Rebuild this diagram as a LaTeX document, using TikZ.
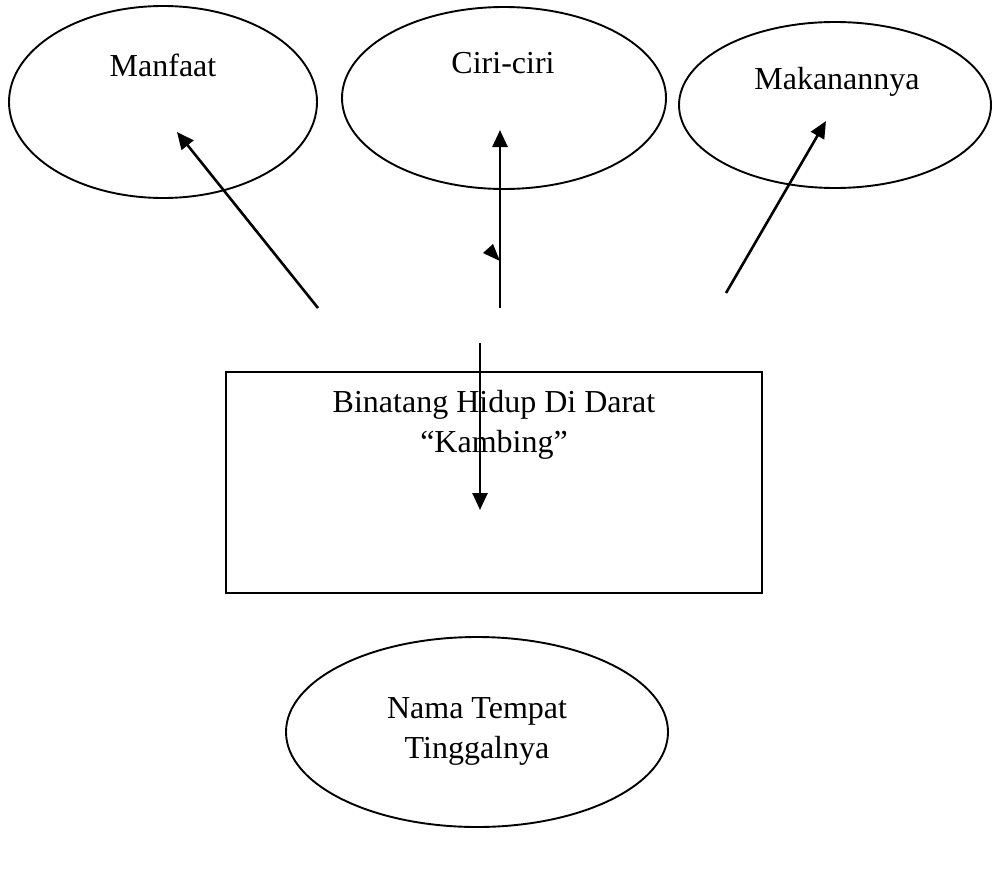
\documentclass[tikz,border=0pt]{standalone}
\usepackage{fontspec}
\setmainfont{Liberation Serif}
\usetikzlibrary{shapes.geometric,arrows.meta}

\begin{document}
\begin{tikzpicture}[x=1pt, y=-1pt,
    bubble/.style = {draw, ellipse, line width=1.9pt, inner sep=0pt},
    kotak/.style = {draw, rectangle, line width=1.9pt, inner sep=0pt},
    txt/.style = {font=\fontsize{32}{40}\selectfont, align=center, inner sep=0pt, anchor=base},
    arr/.style = {line width=2.6pt, -{Triangle[length=17pt,width=15pt]}}]
    \useasboundingbox (0,0) rectangle (992,891);
    % bubbles
    \node[bubble, minimum width=308pt, minimum height=192pt] (manfaat) at (163,102) {};
    \node[bubble, minimum width=324pt, minimum height=182pt] (ciri) at (504,98) {};
    \node[bubble, minimum width=312pt, minimum height=166pt] (makan) at (835,105) {};
    \node[kotak, minimum width=536pt, minimum height=221pt] (hewan) at (494,482.5) {};
    \node[bubble, minimum width=382pt, minimum height=190pt] (tempat) at (477,732) {};
    % texts
    \node[txt] (manfaat-t) at (163,76) {Manfaat};
    \node[txt] (ciri-t) at (503,74) {Ciri-ciri};
    \node[txt] (makan-t) at (837,89) {Makanannya};
    \node[txt] (hewan-t) at (494,452) {Binatang Hidup Di Darat\\``Kambing''};
    \node[txt] (tempat-t) at (477,758) {Nama Tempat\\Tinggalnya};
    % arrows
    \coordinate (a1) at (318,308);
    \coordinate (b1) at (177,132);
    \coordinate (a2) at (500,308);
    \coordinate (b2) at (500,130);
    \coordinate (a3) at (726,293);
    \coordinate (b3) at (826,121);
    \coordinate (a4) at (480,343);
    \coordinate (b4) at (480,510);
    \draw[arr] (a1) -- (b1);
    \draw[arr] (a2) -- (b2);
    \draw[arr] (a3) -- (b3);
    \draw[arr] (a4) -- (b4);
    \fill (483,253) -- (493,244) -- (500,261) -- cycle;
\end{tikzpicture}
\end{document}
